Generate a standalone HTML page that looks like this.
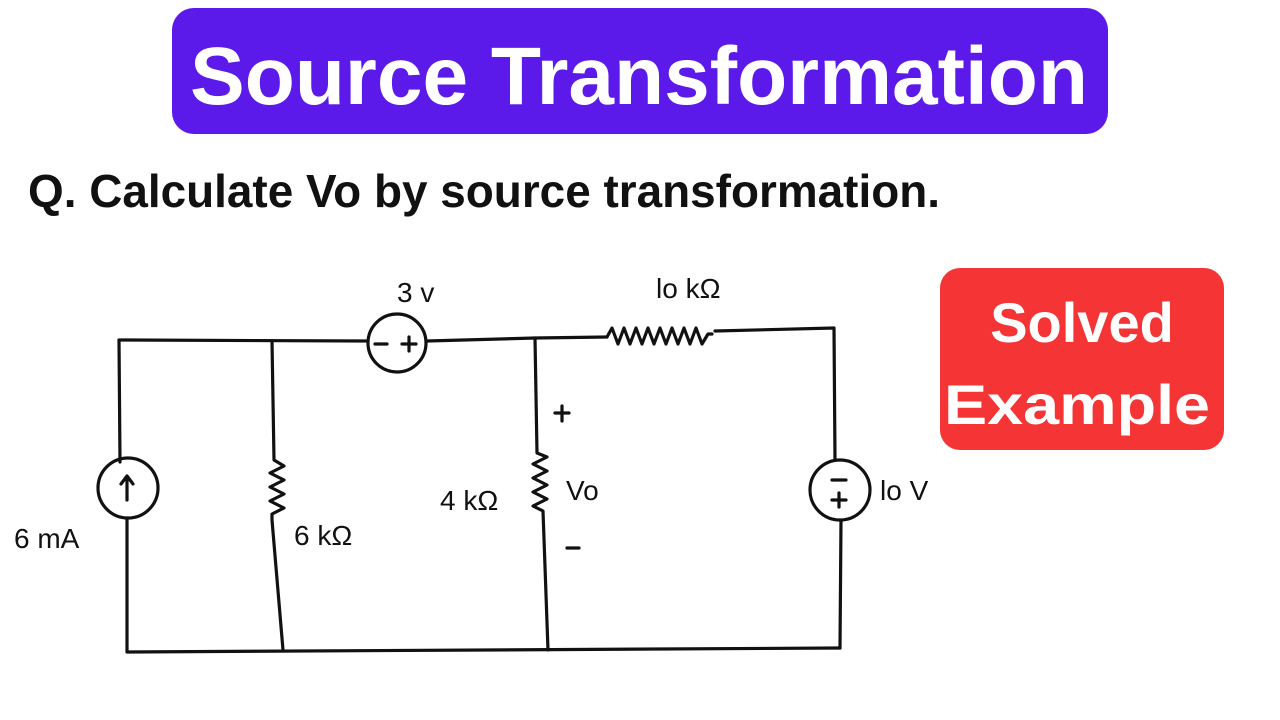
<!DOCTYPE html>
<html><head><meta charset="utf-8"><style>
html,body{margin:0;padding:0;background:#fff;}
svg{display:block;}
</style></head><body>
<svg width="1280" height="720" viewBox="0 0 1280 720" xmlns="http://www.w3.org/2000/svg">
<rect width="1280" height="720" fill="#fff"/>
<rect x="172" y="8" width="936" height="126" rx="22" fill="#5b1aea"/>
<text x="190" y="104" font-family="Liberation Sans, sans-serif" font-weight="bold" font-size="82" fill="#fff" textLength="898" lengthAdjust="spacingAndGlyphs">Source Transformation</text>
<text x="28" y="207" font-family="Liberation Sans, sans-serif" font-weight="bold" font-size="46" fill="#111" textLength="912" lengthAdjust="spacingAndGlyphs">Q. Calculate Vo by source transformation.</text>
<rect x="940" y="268" width="284" height="182" rx="20" fill="#f53535"/>
<text x="1082" y="342" text-anchor="middle" font-family="Liberation Sans, sans-serif" font-weight="bold" font-size="56" fill="#fff">Solved</text>
<text x="1077" y="424" text-anchor="middle" font-family="Liberation Sans, sans-serif" font-weight="bold" font-size="56" fill="#fff" textLength="266" lengthAdjust="spacingAndGlyphs">Example</text>
<g stroke="#111" stroke-width="3.2" fill="none" stroke-linecap="round" stroke-linejoin="round">
<path d="M120 462 L119 340 L367 341"/>
<circle cx="397" cy="343" r="29"/>
<path d="M427 341 L535 338 L607 337"/>
<path d="M607 337 l5 -9 l6 16 l6 -16 l6 16 l6 -16 l6 16 l6 -16 l6 16 l6 -16 l6 16 l6 -16 l6 16 l6 -16 l6 16 l6 -16 l6 16 l6 -10 l4 0"/>
<path d="M715 331 L834 328 L835 460"/>
<path d="M375 344 h12 M402 344 h14 M409 337 v14"/>
<circle cx="128" cy="488" r="30"/>
<path d="M127 500 v-22 M121 484 l6 -8 l6 8"/>
<path d="M127 518 L127 652 L840 648"/>
<path d="M272 341 L274 460 l10 6 l-14 7 l14 7 l-14 7 l14 7 l-14 7 l14 7 l-12 6 l0 6 L283 650"/>
<path d="M535 338 L537 453 l10 4 l-14 7 l14 7 l-14 7 l14 7 l-14 7 l14 7 l-14 7 l10 5 L548 650"/>
<circle cx="840" cy="490" r="30"/>
<path d="M832 480 h14 M832 500 h14 M839 493 v14"/>
<path d="M841 520 L840 648"/>
<path d="M555 413 h14 M562 406 v15 M567 548 h12"/>
</g>
<g font-family="Liberation Sans, sans-serif" font-size="28" fill="#111">
<text x="397" y="302">3 v</text>
<text x="656" y="298">lo k&#937;</text>
<text x="14" y="548">6 mA</text>
<text x="294" y="545">6 k&#937;</text>
<text x="440" y="510">4 k&#937;</text>
<text x="566" y="500">Vo</text>
<text x="880" y="500">lo V</text>
</g>
</svg>
</body></html>
